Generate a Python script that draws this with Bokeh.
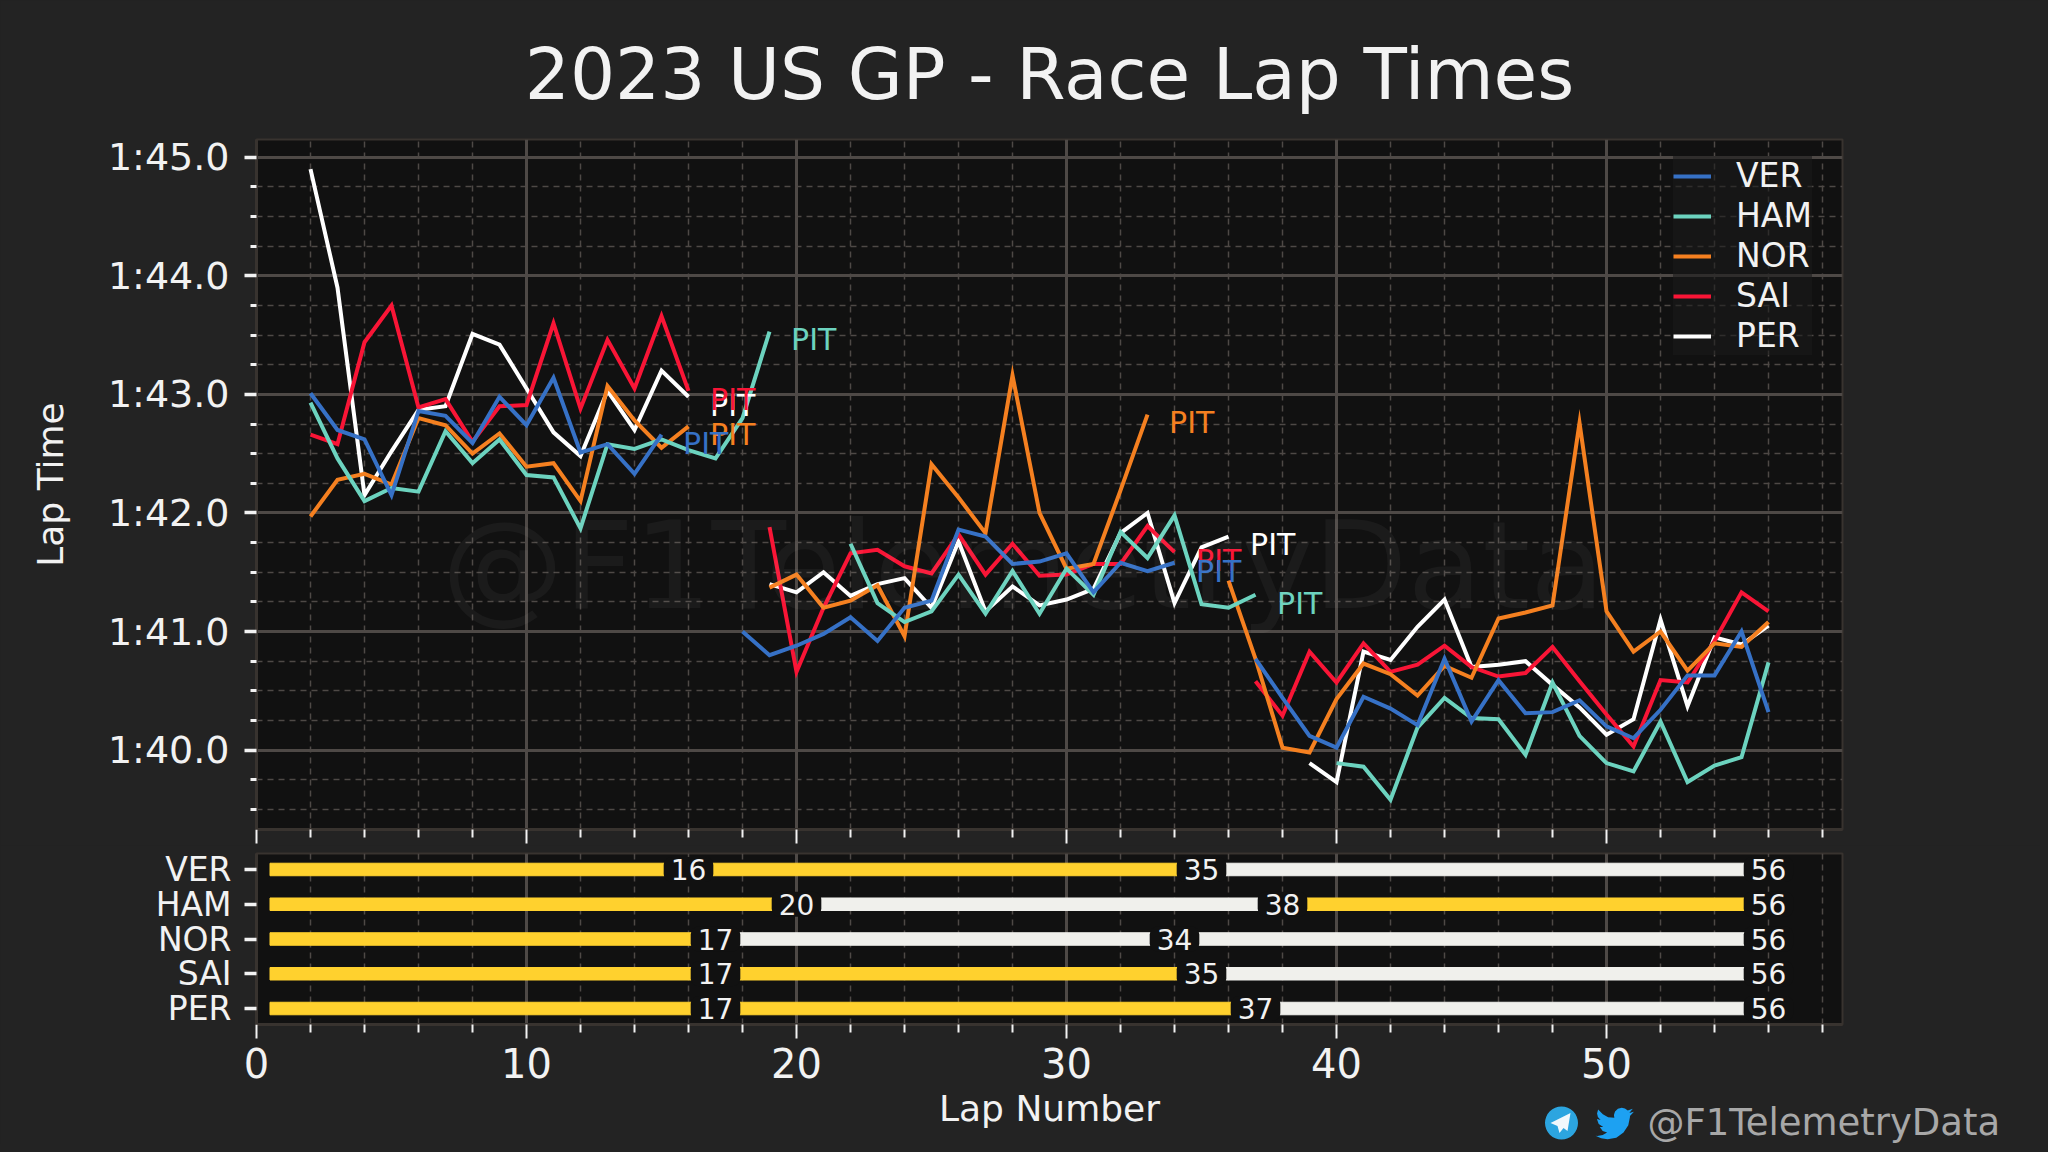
from bokeh.embed import file_html
from bokeh.resources import INLINE
from bokeh.plotting import figure
from bokeh.layouts import column, row
from bokeh.models import ColumnDataSource, FixedTicker, Range1d, Legend, LegendItem, Label
from bokeh.core.properties import value

nan = float("nan")
FONT = "DejaVu Sans"

laps = list(range(2, 57))
ver_times = [103.01,102.70,102.62,102.15,102.86,102.82,102.59,102.98,102.74,103.14,102.51,102.58,102.33,102.66,
             nan,nan,
             101.00,100.80,100.88,100.98,101.12,100.92,101.20,101.26,101.86,101.80,101.57,101.59,101.66,101.33,101.58,101.51,101.58,
             nan,nan,
             100.77,100.44,100.12,100.02,100.45,100.35,100.21,100.77,100.24,100.59,100.31,100.32,100.42,100.20,100.10,100.34,100.63,100.63,101.00,100.32]
ham_times = [102.93,102.46,102.10,102.21,102.18,102.69,102.42,102.62,102.32,102.30,101.87,102.58,102.54,102.62,102.53,102.46,102.80,103.53,
             nan,nan,
             101.74,101.24,101.08,101.17,101.48,101.15,101.51,101.15,101.53,101.31,101.84,101.62,101.98,101.23,101.20,101.31,
             nan,nan,
             99.89,99.86,99.58,100.19,100.44,100.27,100.26,99.96,100.57,100.12,99.89,99.82,100.24,99.73,99.87,99.94,100.74]
nor_times = [101.97,102.28,102.33,102.24,102.80,102.74,102.50,102.67,102.39,102.42,102.10,103.07,102.78,102.55,102.73,
             nan,nan,
             101.37,101.48,101.20,101.26,101.39,100.96,102.41,102.13,101.83,103.16,102.00,101.53,101.57,102.19,102.83,
             nan,nan,
             101.43,100.77,100.02,99.98,100.43,100.73,100.64,100.46,100.71,100.61,101.11,101.16,101.22,102.76,101.17,100.83,101.00,100.67,100.90,100.87,101.08]
sai_times = [102.66,102.58,103.44,103.75,102.89,102.96,102.60,102.90,102.91,103.60,102.88,103.46,103.05,103.66,103.03,
             nan,nan,
             101.88,100.66,101.20,101.66,101.69,101.55,101.49,101.82,101.48,101.74,101.47,101.48,101.57,101.57,101.89,101.67,
             nan,nan,
             100.58,100.29,100.83,100.57,100.90,100.66,100.72,100.88,100.70,100.62,100.65,100.87,100.58,100.30,100.03,100.59,100.57,100.92,101.33,101.17]
per_times = [104.90,103.90,102.15,102.52,102.87,102.90,103.51,103.42,103.05,102.68,102.48,103.03,102.70,103.20,102.98,
             nan,nan,
             101.40,101.33,101.50,101.30,101.40,101.45,101.20,101.76,101.17,101.38,101.22,101.27,101.36,101.83,102.00,101.24,101.71,101.80,
             nan,nan,
             99.89,99.73,100.83,100.76,101.04,101.27,100.70,100.72,100.75,100.55,100.36,100.13,100.26,101.10,100.37,100.95,100.89,101.05]

drivers = ["VER", "HAM", "NOR", "SAI", "PER"]
driver_times = dict(VER=ver_times, HAM=ham_times, NOR=nor_times, SAI=sai_times, PER=per_times)
driver_colors = dict(VER="#3671C6", HAM="#6CD3BF", NOR="#F58020", SAI="#F91536", PER="#FFFFFF")
draw_order = ["PER", "SAI", "NOR", "HAM", "VER"]

ver_pits = [16, 35, 56]
ham_pits = [20, 38, 56]
nor_pits = [17, 34, 56]
sai_pits = [17, 35, 56]
per_pits = [17, 37, 56]
driver_pits = dict(VER=ver_pits, HAM=ham_pits, NOR=nor_pits, SAI=sai_pits, PER=per_pits)
ver_tyres = ["M", "M", "H"]
ham_tyres = ["M", "H", "M"]
nor_tyres = ["M", "H", "H"]
sai_tyres = ["M", "M", "H"]
per_tyres = ["M", "M", "H"]
driver_tyres = dict(VER=ver_tyres, HAM=ham_tyres, NOR=nor_tyres, SAI=sai_tyres, PER=per_tyres)
tyre_colors = dict(M="#FFD12E", H="#F0F0EC")

y_major = [100, 101, 102, 103, 104, 105]
y_labels = ["1:40.0", "1:41.0", "1:42.0", "1:43.0", "1:44.0", "1:45.0"]
y_minor = [99.5, 99.75, 100.25, 100.5, 100.75, 101.25, 101.5, 101.75, 102.25, 102.5, 102.75,
           103.25, 103.5, 103.75, 104.25, 104.5, 104.75]
x_major = [0, 10, 20, 30, 40, 50]
x_minor = [v for v in range(0, 59, 2) if v % 10]

BG = "#232323"
AX = "#111111"
TXT = "#F2F2F2"
GRID = "#4E4946"
SPINE = "#38332F"
FL, FT, FW, FH = 256, 139, 1586, 690


def style(fig):
    fig.xaxis.ticker = FixedTicker(ticks=x_major, minor_ticks=x_minor)
    fig.xgrid.ticker = FixedTicker(ticks=x_major, minor_ticks=x_minor)
    fig.xgrid.grid_line_color = GRID
    fig.xgrid.grid_line_width = 3
    fig.xgrid.minor_grid_line_color = GRID
    fig.xgrid.minor_grid_line_width = 1.5
    fig.xgrid.minor_grid_line_dash = "6 5"
    for ax in fig.xaxis:
        ax.axis_line_color = SPINE
        ax.axis_line_width = 3
        ax.major_tick_line_color = TXT
        ax.minor_tick_line_color = TXT
        ax.major_tick_line_width = 2
        ax.minor_tick_line_width = 2
        ax.major_tick_out = 14
        ax.major_tick_in = 0
        ax.minor_tick_out = 8
        ax.minor_tick_in = 0
    for ax in fig.yaxis:
        ax.axis_line_color = SPINE
        ax.axis_line_width = 3
        ax.major_tick_line_color = TXT
        ax.major_tick_line_width = 3.5
        ax.major_tick_out = 12
        ax.major_tick_in = 0
        ax.minor_tick_line_color = TXT
        ax.minor_tick_line_width = 3
        ax.minor_tick_out = 6
        ax.minor_tick_in = 0
        ax.major_label_text_color = TXT
        ax.major_label_text_font = FONT
    fig.outline_line_color = SPINE
    fig.outline_line_width = 2


# ---- main lap-time panel
p = figure(frame_width=FW, frame_height=FH, x_range=Range1d(0, 58.74), y_range=Range1d(99.33, 105.15),
           output_backend="svg", toolbar_location=None, background_fill_color=AX, border_fill_color=BG,
           min_border_left=FL, min_border_right=198, min_border_top=FT, min_border_bottom=16)
p.title.text = "2023 US GP - Race Lap Times"
p.title.align = "center"
p.title.text_font = FONT
p.title.text_font_style = "normal"
p.title.text_font_size = "71px"
p.title.text_color = TXT
p.title.standoff = 48
style(p)
p.yaxis.ticker = FixedTicker(ticks=y_major, minor_ticks=y_minor)
p.ygrid.ticker = FixedTicker(ticks=y_major, minor_ticks=y_minor)
p.ygrid.grid_line_color = GRID
p.ygrid.grid_line_width = 3
p.ygrid.minor_grid_line_color = GRID
p.ygrid.minor_grid_line_width = 1.5
p.ygrid.minor_grid_line_dash = "6 5"
p.yaxis.major_label_overrides = dict(zip(y_major, y_labels))
p.yaxis.major_label_text_font_size = "38px"
p.yaxis.major_label_standoff = 15
p.yaxis.axis_label = "Lap Time"
p.yaxis.axis_label_text_font = FONT
p.yaxis.axis_label_text_font_style = "normal"
p.yaxis.axis_label_text_font_size = "36px"
p.yaxis.axis_label_text_color = TXT
p.yaxis.axis_label_standoff = 34
p.xaxis.major_label_text_color = None
p.xaxis.major_label_text_font_size = "1px"
p.xaxis.major_label_standoff = 0

p.add_layout(Label(x=28.4, y=101.55, text="@F1TelemetryData", text_align="center", text_baseline="middle",
                   text_font=FONT, text_font_size="122px", text_color="#FFFFFF", text_alpha=0.045))

renderers = {}
for d in draw_order:
    renderers[d] = p.line(laps, driver_times[d], line_color=driver_colors[d], line_width=4, line_join="miter")
legend = Legend(items=[LegendItem(label=d, renderers=[renderers[d]]) for d in drivers],
                location=(1417, 474), border_line_color=None,
                background_fill_color="#1A1A1A", background_fill_alpha=0.6,
                label_text_font=FONT, label_text_font_size="33px", label_text_color=TXT,
                glyph_width=38, glyph_height=30, label_height=30, spacing=1,
                label_standoff=25, padding=10, margin=0)
p.add_layout(legend, "center")

for d in draw_order:
    x, y = [], []
    for pit in driver_pits[d][:-1]:
        x.append(pit - 1 + 0.8)
        y.append(driver_times[d][pit - 1 - laps[0]] - 0.07)
    p.text(x, y, text=["PIT"] * len(x), text_color=driver_colors[d], text_font=value(FONT),
           text_font_size="30px", text_baseline="middle", text_align="left")

# ---- tyre strategy panel
q = figure(frame_width=FW, frame_height=171, x_range=Range1d(0, 58.74), y_range=Range1d(4.46, -0.46),
           output_backend="svg", toolbar_location=None, background_fill_color=AX, border_fill_color=BG,
           min_border_left=FL, min_border_right=198, min_border_top=8, min_border_bottom=120)
style(q)
q.ygrid.visible = False
q.yaxis.ticker = FixedTicker(ticks=list(range(5)), minor_ticks=[])
q.yaxis.major_label_overrides = {i: d for i, d in enumerate(drivers)}
q.yaxis.major_label_text_font_size = "33px"
q.yaxis.major_label_standoff = 13
q.xaxis.major_label_text_font = FONT
q.xaxis.major_label_text_font_size = "40px"
q.xaxis.major_label_text_color = TXT
q.xaxis.major_label_standoff = 9
q.xaxis.axis_label = "Lap Number"
q.xaxis.axis_label_text_font = FONT
q.xaxis.axis_label_text_font_style = "normal"
q.xaxis.axis_label_text_font_size = "36px"
q.xaxis.axis_label_text_color = TXT
q.xaxis.axis_label_standoff = 7

bars = dict(y=[], left=[], right=[], color=[])
marks = dict(y=[], x=[], text=[])
for i, d in enumerate(drivers):
    prev = 0
    for pit, tyre in zip(driver_pits[d], driver_tyres[d]):
        bars["y"].append(i)
        bars["left"].append(prev + 0.5)
        bars["right"].append(pit + 0.5)
        bars["color"].append(tyre_colors[tyre])
        marks["y"].append(i)
        marks["x"].append(pit)
        marks["text"].append(str(pit))
        prev = pit
q.hbar(y="y", left="left", right="right", height=0.36, color="color", source=ColumnDataSource(bars))
q.text(x="x", y="y", text="text", source=ColumnDataSource(marks), text_color=TXT, text_font=value(FONT),
       text_font_size="28px", text_align="center", text_baseline="middle",
       background_fill_color=AX, padding=(7, 2), border_radius=8)

# ---- credits strip, laid transparently over the foot of the tyre panel
r = figure(width=2040, height=44, x_range=Range1d(0, 2040), y_range=Range1d(1144, 1100),
           x_axis_type=None, y_axis_type=None, output_backend="svg", toolbar_location=None,
           min_border=0, outline_line_color=None, background_fill_alpha=0, border_fill_alpha=0)
r.grid.visible = False
r.text([1647], [1122], text=["@F1TelemetryData"], text_color="#A8A8A8", text_font=value(FONT),
       text_font_size="37px", text_baseline="middle", text_align="left")
r.scatter([1561], [1122.5], size=33, marker="circle", fill_color="#2CA5E0", line_color=None)
plane = [(9, -10), (-11, 0), (-4, 3), (-2, 10), (2, 5), (6, 8)]
r.patch([1561 + a for a, b in plane], [1122.5 + b for a, b in plane], fill_color="#F2F8FC", line_color=None)
bird = [(24,4.59),(21.13,5.35),(23.29,2.62),(20.16,3.81),(18.4,2.45),(16.4,2.0),(14.0,2.65),(12.2,4.3),(11.5,6.5),
        (11.78,8.29),(7.9,7.9),(4.6,6.1),(1.64,3.16),(0.97,5.64),(1.5,7.8),(3.16,9.73),(0.93,9.12),(0.93,9.18),
        (2.0,12.2),(4.88,14.0),(2.67,14.09),(4.5,16.5),(7.27,17.5),(4.5,19.0),(1.17,19.61),(0,19.54),(3.5,21.1),
        (7.56,21.75),(13,20.8),(17.5,17.5),(20.5,13),(21.55,7.77),(21.54,7.13)]
r.patch([1595 + 1.6 * a for a, b in bird], [1104 + 1.6 * b for a, b in bird], fill_color="#1DA1F2", line_color=None)

strip = row(r, margin=(-44, 0, 0, 0))
root = column(column(p, q, spacing=0), strip, spacing=0)
html = file_html(root, INLINE)
html = html.replace("</head>", "<style>html,body{background:#232323;}</style></head>", 1)
open("out.html", "w").write(html)
